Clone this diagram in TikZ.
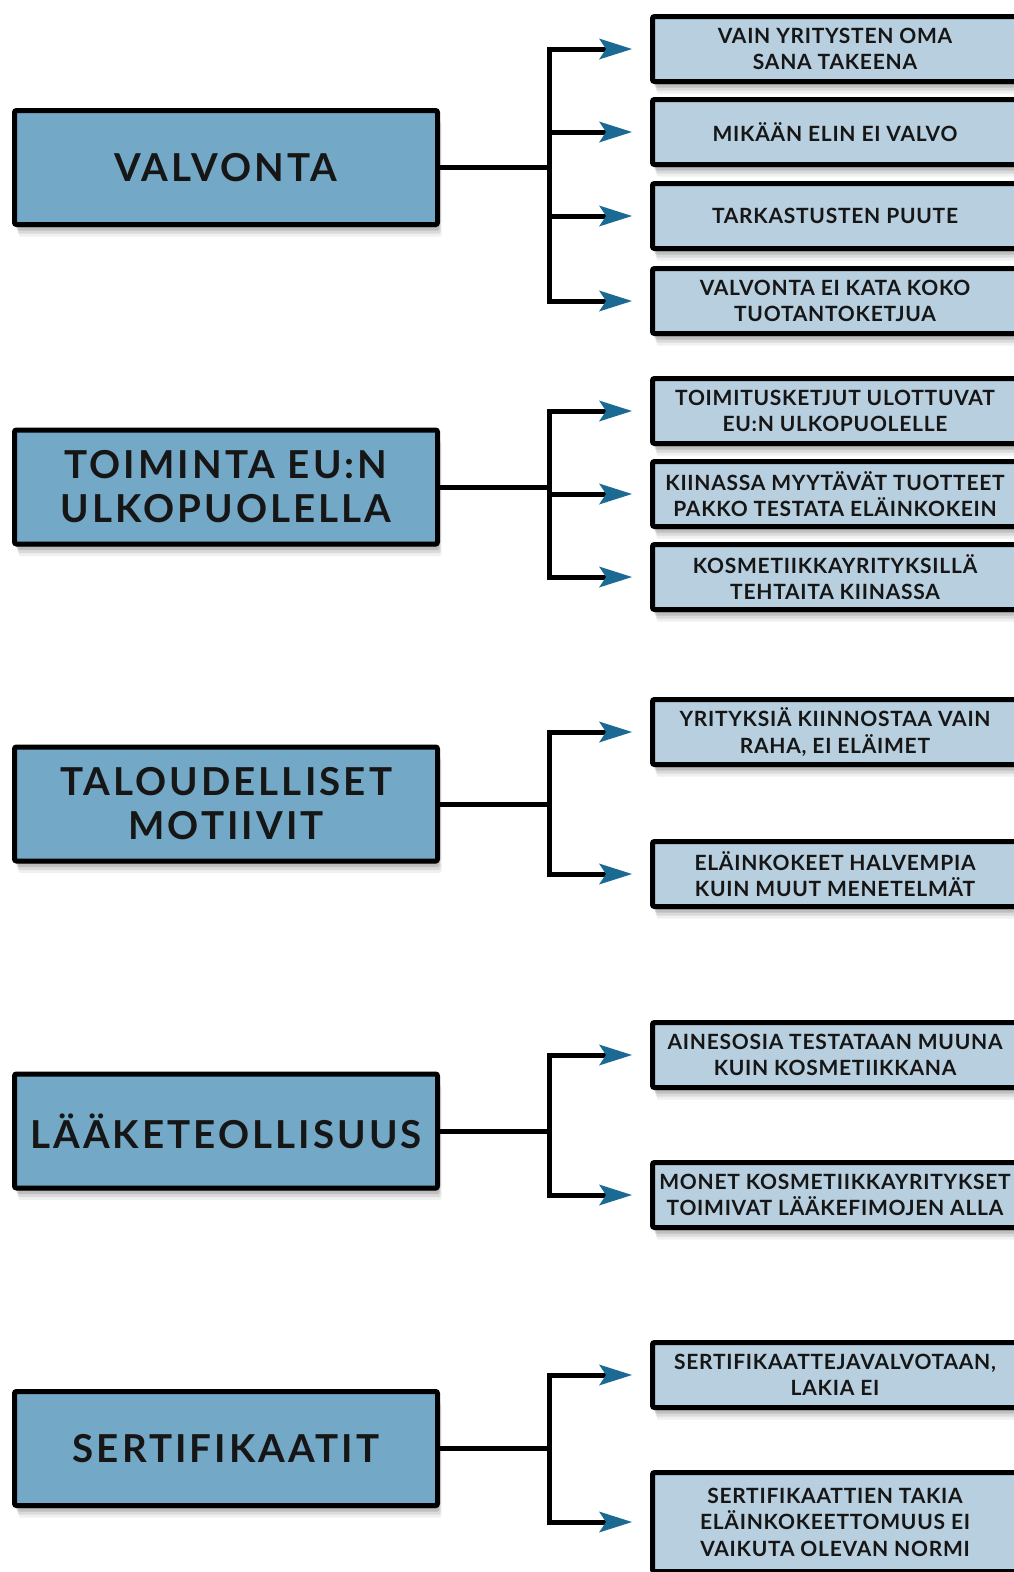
\documentclass[tikz,border=0pt]{standalone}
\usepackage{fontspec}
\setmainfont{Lato}[LetterSpace=8]
\newfontfamily\subfont{Lato}[LetterSpace=3.5]
\usetikzlibrary{arrows.meta,shadows}
\definecolor{mainblue}{HTML}{74A8C7}
\definecolor{subblue}{HTML}{B8CFDF}
\definecolor{arrowteal}{HTML}{1B6A94}
\definecolor{txt}{HTML}{161616}
\tikzset{
  boxshadow/.style={
    general shadow={fill=black,opacity=0.14,shadow xshift=1pt,shadow yshift=-3pt},
    general shadow={fill=black,opacity=0.12,shadow xshift=2pt,shadow yshift=-6pt},
    general shadow={fill=black,opacity=0.09,shadow xshift=3pt,shadow yshift=-9pt},
    general shadow={fill=black,opacity=0.06,shadow xshift=4pt,shadow yshift=-12pt}},
  mainbox/.style={boxshadow, draw=black, line width=5pt, fill=mainblue,
    rounded corners=2pt,
    minimum width=423pt, minimum height=114pt, inner sep=0pt, align=center,
    text=txt, font=\bfseries\fontsize{38.5}{44}\selectfont},
  subbox/.style={boxshadow, draw=black, line width=5pt, fill=subblue,
    rounded corners=2pt,
    minimum width=365pt, minimum height=65pt, inner sep=0pt, align=center,
    text=txt, font=\subfont\bfseries\fontsize{21}{26.5}\selectfont},
  conn/.style={line width=5pt, draw=black,
    -{Stealth[length=33pt 0, width=21pt 0, inset=7pt, color=arrowteal, line width=0pt]},
    shorten >=18pt}
}
\begin{document}
\begin{tikzpicture}[x=1pt,y=-1pt]
\useasboundingbox (0,0) rectangle (1014,1572);
\fill[white] (0,0) rectangle (1014,1572);
\clip (0,0) rectangle (1014,1572);
\coordinate (bus) at (549,0);

% Group 1
\node[mainbox] (L1) at (226,167.5) {VALVONTA};
\node[subbox] (R11) at (835,49) {VAIN YRITYSTEN OMA\\SANA TAKEENA};
\node[subbox] (R12) at (835,132) {MIKÄÄN ELIN EI VALVO};
\node[subbox] (R13) at (835,216) {TARKASTUSTEN PUUTE};
\node[subbox] (R14) at (835,301) {VALVONTA EI KATA KOKO\\TUOTANTOKETJUA};

% Group 2
\node[mainbox] (L2) at (226,487) {TOIMINTA EU:N\\ULKOPUOLELLA};
\node[subbox] (R21) at (835,411) {TOIMITUSKETJUT ULOTTUVAT\\EU:N ULKOPUOLELLE};
\node[subbox] (R22) at (835,494) {KIINASSA MYYTÄVÄT TUOTTEET\\PAKKO TESTATA ELÄINKOKEIN};
\node[subbox] (R23) at (835,577) {KOSMETIIKKAYRITYKSILLÄ\\TEHTAITA KIINASSA};

% Group 3
\node[mainbox] (L3) at (226,804) {TALOUDELLISET\\MOTIIVIT};
\node[subbox] (R31) at (835,732) {YRITYKSIÄ KIINNOSTAA VAIN\\RAHA, EI ELÄIMET};
\node[subbox] (R32) at (835,874) {ELÄINKOKEET HALVEMPIA\\KUIN MUUT MENETELMÄT};

% Group 4
\node[mainbox] (L4) at (226,1131) {LÄÄKETEOLLISUUS};
\node[subbox] (R41) at (835,1055) {AINESOSIA TESTATAAN MUUNA\\KUIN KOSMETIIKKANA};
\node[subbox] (R42) at (835,1195) {MONET KOSMETIIKKAYRITYKSET\\TOIMIVAT LÄÄKEFIMOJEN ALLA};

% Group 5
\node[mainbox] (L5) at (226,1448.5) {SERTIFIKAATIT};
\node[subbox] (R51) at (835,1375) {SERTIFIKAATTEJAVALVOTAAN,\\LAKIA EI};
\node[subbox, minimum height=99pt] (R52) at (835,1522) {SERTIFIKAATTIEN TAKIA\\ELÄINKOKEETTOMUUS EI\\VAIKUTA OLEVAN NORMI};

% Connectors
\foreach \l/\r in {L1/R11,L1/R12,L1/R13,L1/R14,L2/R21,L2/R22,L2/R23,L3/R31,L3/R32,L4/R41,L4/R42,L5/R51,L5/R52}{
  \draw[conn] (\l.east) -- (\l.east -| bus) |- (\r.west);
}
\end{tikzpicture}
\end{document}
